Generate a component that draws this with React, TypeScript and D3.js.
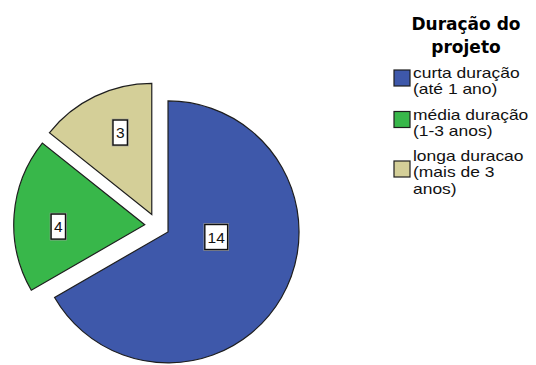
import React from "react";
import * as d3 from "d3";

const categories = ["curta duração (até 1 ano)", "média duração (1-3 anos)", "longa duracao (mais de 3 anos)"];
const legendLines = [["curta duração", "(até 1 ano)"], ["média duração", "(1-3 anos)"], ["longa duracao", "(mais de 3", "anos)"]];
const counts = [14, 4, 3];
const titleLines = ["Duração do", "projeto"];
const colors = ["#3e58aa", "#38b74a", "#d4cf98"];

// layout config (label placement inside each slice: fraction of slice angle, fraction of radius)
const labelPlacement = [
  { angleFrac: 0.4, radiusFrac: 0.37 },
  { angleFrac: 0.42, radiusFrac: 0.66 },
  { angleFrac: 0.59, radiusFrac: 0.67 },
];

const W = 536;
const H = 365;
const R = 131;
const CX = 157.2;
const CY = 225.7;
const EXPLODE = 12.5;

export default function App() {
  const pie = d3.pie<number>().sort(null).startAngle(0).endAngle(2 * Math.PI);
  const arcs = pie(counts);
  const arc = d3.arc<d3.PieArcDatum<number>>().innerRadius(0).outerRadius(R);

  const slices = arcs.map((a, i) => {
    const mid = (a.startAngle + a.endAngle) / 2;
    const ox = CX + EXPLODE * Math.sin(mid);
    const oy = CY - EXPLODE * Math.cos(mid);
    const lp = labelPlacement[i];
    const la = a.startAngle + lp.angleFrac * (a.endAngle - a.startAngle);
    const lr = lp.radiusFrac * R;
    const lx = ox + lr * Math.sin(la);
    const ly = oy - lr * Math.cos(la);
    return { a, i, ox, oy, lx, ly };
  });

  const legendX = 394;
  const textX = 413;
  const linePitch = 16.5;
  const sy = 0.89;
  let y = 78;
  const legendItems = legendLines.map((lines, i) => {
    const first = y;
    y += lines.length * linePitch + 8.5;
    return { lines, first, i };
  });

  return (
    <div style={{ position: "fixed", left: 0, top: 0 }}>
      <svg width={W} height={H} viewBox={`0 0 ${W} ${H}`} style={{ display: "block", background: "#fff" }}>
        {slices.map((s) => (
          <path
            key={s.i}
            d={arc(s.a) || ""}
            transform={`translate(${s.ox},${s.oy})`}
            fill={colors[s.i]}
            stroke="#1e1e1e"
            strokeWidth={1.2}
            strokeLinejoin="miter"
          />
        ))}
        {slices.map((s) => {
          const txt = String(counts[s.i]);
          const tw = txt.length * 8.4 + 6;
          const th = 25;
          return (
            <g key={"l" + s.i} transform={`translate(${s.lx},${s.ly})`}>
              <rect x={-tw / 2 - 0.8} y={-th / 2 - 0.8} width={tw + 1.6} height={th + 1.6} fill="none" stroke="#a0a0a0" strokeWidth={1} />
              <rect x={-tw / 2} y={-th / 2} width={tw} height={th} fill="#fff" stroke="#111" strokeWidth={1.4} />
              <text x={0} y={5.6} textAnchor="middle" fontFamily="Liberation Sans, Arial, sans-serif" fontSize={15.5} fill="#111">
                {txt}
              </text>
            </g>
          );
        })}
        <text
          x={466}
          y={30}
          textAnchor="middle"
          fontFamily="DejaVu Sans, sans-serif"
          fontWeight="bold"
          fontSize={17}
          fill="#000"
        >
          {titleLines.map((t, i) => (
            <tspan key={"t" + i} x={466} dy={i === 0 ? 0 : 23}>
              {t}
            </tspan>
          ))}
        </text>
        {legendItems.map((it) => (
          <g key={"g" + it.i}>
            <rect
              x={legendX}
              y={it.first - 9 + (it.lines.length - 2) * 8 + 1}
              width={16}
              height={16}
              fill={colors[it.i]}
              stroke="#1e1e1e"
              strokeWidth={1.2}
            />
            <text
              transform={`translate(${textX},${it.first}) scale(1.07,${sy})`}
              fontFamily="Liberation Sans, Arial, sans-serif"
              fontSize={16.3}
              fill="#111"
            >
              {it.lines.map((ln, j) => (
                <tspan key={j} x={0} dy={j === 0 ? 0 : linePitch / sy}>
                  {ln}
                </tspan>
              ))}
            </text>
          </g>
        ))}
        <title>{categories.join(", ")}</title>
      </svg>
    </div>
  );
}
